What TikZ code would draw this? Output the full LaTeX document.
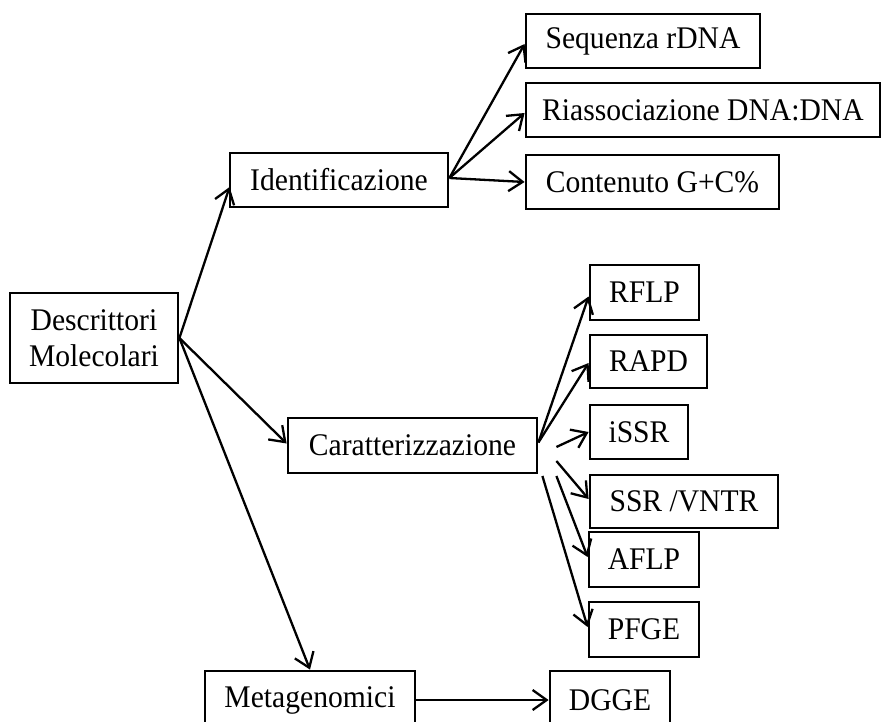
\documentclass[tikz,border=0pt]{standalone}
\usepackage{fontspec}
\setmainfont[FakeStretch=0.94]{Liberation Serif}
\usetikzlibrary{arrows.meta,calc}
\begin{document}
\begin{tikzpicture}[x=1pt,y=-1pt,
  box/.style={draw,line width=2.8pt,inner sep=0pt,minimum height=54pt,
    font=\fontsize{31.5}{36}\selectfont,align=center},
  conn/.style={line width=2.3pt,-{Straight Barb[length=14pt,width=20pt,line width=2.3pt]}}]
\useasboundingbox (0,0) rectangle (881,722);
\clip (0,0) rectangle (881,722);
\node[box,minimum width=168pt,minimum height=90pt] (desc) at (94,338) {Descrittori\\Molecolari};
\node[box,minimum width=218pt] (ident) at (339,180) {Identificazione};
\node[box,minimum width=234pt] (seq) at (643,41) {Sequenza rDNA};
\node[box,minimum width=354pt] (riass) at (703,110) {Riassociazione DNA:DNA};
\node[box,minimum width=253pt] (cont) at (652.5,182) {Contenuto G+C\%};
\node[box,minimum width=249pt,minimum height=55pt] (car) at (412.5,445.5) {Caratterizzazione};
\node[box,minimum width=109pt,minimum height=55pt] (rflp) at (644.5,292.5) {RFLP};
\node[box,minimum width=117pt,minimum height=53pt] (rapd) at (648.5,361.5) {RAPD};
\node[box,minimum width=98pt] (issr) at (639,432) {iSSR};
\node[box,minimum width=188pt,minimum height=53pt] (ssr) at (684,501.5) {SSR /VNTR};
\node[box,minimum width=110pt,minimum height=55pt] (aflp) at (644,559.5) {AFLP};
\node[box,minimum width=110pt,minimum height=55pt] (pfge) at (644,629.5) {PFGE};
\node[box,minimum width=210pt,minimum height=58pt] (meta) at (310,700) {Metagenomici};
\node[box,minimum width=120pt,minimum height=58pt] (dgge) at (610,700) {DGGE};
\coordinate (c1) at ($(car.east)+(18,1.5)$);
\coordinate (c2) at ($(car.east)+(18,15.5)$);
\coordinate (c3) at ($(car.east)+(18,30.5)$);
\coordinate (c4) at ($(car.east)+(4,30.5)$);
\draw[conn] (desc.east) -- ($(ident.west)+(1,7)$);
\draw[conn] (desc.east) -- ($(car.west)+(0,-2)$);
\draw[conn] (desc.east) -- (meta.north);
\draw[conn] ($(ident.east)+(0,-2)$) -- ($(seq.west)+(0,3)$);
\draw[conn] ($(ident.east)+(0,-2)$) -- ($(riass.west)+(0,3)$);
\draw[conn] ($(ident.east)+(0,-2)$) -- (cont.west);
\draw[conn] ($(car.east)+(0,-3)$) -- ($(rflp.west)+(0,4)$);
\draw[conn] ($(car.east)+(0,-3)$) -- ($(rapd.west)+(0,1.5)$);
\draw[conn] (c1) -- (issr.west);
\draw[conn] (c2) -- ($(ssr.west)+(0,-2.5)$);
\draw[conn] (c3) -- ($(aflp.west)+(0,-2.5)$);
\draw[conn] (c4) -- ($(pfge.west)+(0,-2.5)$);
\draw[conn] (meta.east) -- (dgge.west);
\end{tikzpicture}
\end{document}
